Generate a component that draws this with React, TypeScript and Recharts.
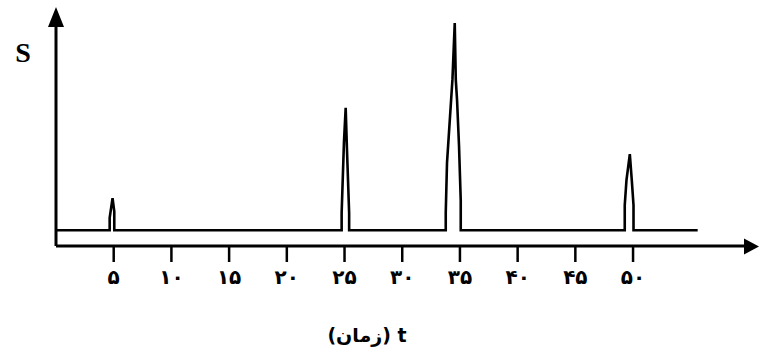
import React from "react";
import { LineChart, Line, XAxis, YAxis } from "recharts";

// time (t) and signal (S) samples
const T_VALUES = [
  0, 4.65, 4.65, 4.9, 5.05, 5.05,
  24.75, 24.75, 24.95, 25.1, 25.2, 25.4, 25.4,
  33.77, 33.77, 33.88, 34.35, 34.55, 34.64, 34.75, 34.92, 35.07, 35.07,
  49.28, 49.28, 49.43, 49.72, 49.89, 50.04, 50.04,
  55.6,
];
const S_VALUES = [
  1, 1, 1.8, 3.05, 2.2, 1,
  1, 2.1, 6.6, 8.8, 6.4, 2.1, 1,
  1, 2.1, 5.3, 10.6, 14.2, 10.6, 9.3, 6.4, 2.9, 1,
  1, 2.6, 4.2, 5.85, 4.2, 2.6, 1,
  1,
];
const TICKS = [5, 10, 15, 20, 25, 30, 35, 40, 45, 50];
const TICK_LABELS = ["۵", "۱۰", "۱۵", "۲۰", "۲۵", "۳۰", "۳۵", "۴۰", "۴۵", "۵۰"];

const X_TITLE = "(زمان) t";
const Y_TITLE = "S";

const INK = "#000";
const PERSIAN_FONT = "'DejaVu Sans', sans-serif";

export default function App() {
  const data = T_VALUES.map((t, i) => ({ t, s: S_VALUES[i] }));

  return (
    <div
      style={{
        position: "absolute",
        left: 0,
        top: 0,
        width: 759,
        height: 353,
        background: "#fff",
      }}
    >
      <LineChart
        width={759}
        height={353}
        data={data}
        margin={{ top: 20, right: 14, bottom: 47, left: 46 }}
      >
        <XAxis
          dataKey="t"
          type="number"
          domain={[0, 59.7]}
          allowDataOverflow
          ticks={TICKS}
          interval={0}
          tickFormatter={(v) => TICK_LABELS[TICKS.indexOf(v)] ?? ""}
          height={60}
          axisLine={{ stroke: INK, strokeWidth: 3 }}
          tickLine={{ stroke: INK, strokeWidth: 2.5 }}
          tickSize={16}
          tickMargin={8}
          tick={{
            fill: INK,
            fontFamily: PERSIAN_FONT,
            fontWeight: "bold",
            fontSize: 20,
          }}
        />
        <YAxis
          type="number"
          domain={[0, 14.4]}
          allowDataOverflow
          width={10}
          tick={false}
          tickLine={false}
          axisLine={{ stroke: INK, strokeWidth: 3 }}
        />
        <Line
          dataKey="s"
          type="linear"
          stroke={INK}
          strokeWidth={2.6}
          dot={false}
          isAnimationActive={false}
        />
      </LineChart>

      {/* arrows and titles */}
      <svg
        width={759}
        height={353}
        style={{ position: "absolute", left: 0, top: 0, pointerEvents: "none" }}
      >
        <polygon points="56,7 48,27 64,27" fill={INK} />
        <polygon points="759,246.5 744,238.5 744,254.5" fill={INK} />
        <text
          x={23}
          y={62}
          textAnchor="middle"
          fontFamily="'Liberation Serif', serif"
          fontWeight="bold"
          fontSize={28}
          fill={INK}
        >
          {Y_TITLE}
        </text>
        <text
          x={367}
          y={342}
          textAnchor="middle"
          fontFamily={PERSIAN_FONT}
          fontWeight="bold"
          fontSize={19}
          fill={INK}
        >
          {X_TITLE}
        </text>
      </svg>
    </div>
  );
}
